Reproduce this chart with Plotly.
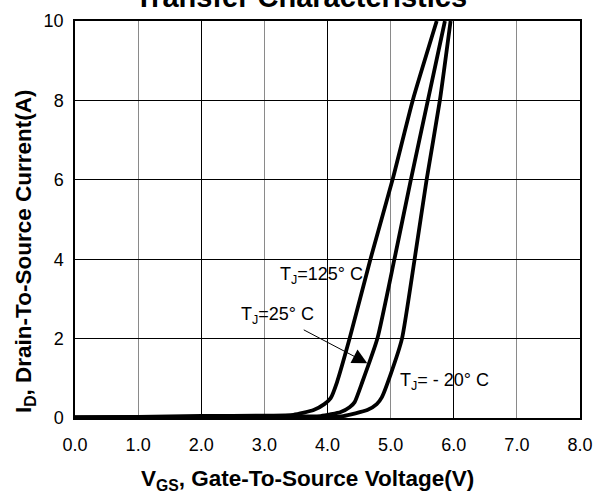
import plotly.graph_objects as go

# Transfer characteristics: V_GS (V) vs I_D (A)
vgs_125 = [0.0, 1.0, 2.0, 3.0, 3.46, 3.78, 3.95, 4.05, 4.15, 4.35, 4.68, 5.03, 5.35, 5.73]
id_125 = [0.02, 0.03, 0.05, 0.06, 0.08, 0.2, 0.35, 0.5, 0.9, 2.0, 4.0, 6.0, 8.0, 10.0]

vgs_25 = [0.0, 1.0, 2.0, 3.0, 3.89, 4.21, 4.35, 4.43, 4.55, 4.79, 5.06, 5.32, 5.59, 5.86]
id_25 = [0.01, 0.02, 0.03, 0.04, 0.05, 0.15, 0.27, 0.4, 0.9, 2.0, 4.0, 6.0, 8.0, 10.0]

vgs_m20 = [0.0, 1.0, 2.0, 3.0, 4.0, 4.25, 4.63, 4.78, 4.86, 5.0, 5.18, 5.38, 5.57, 5.78, 5.95]
id_m20 = [0.01, 0.01, 0.02, 0.02, 0.03, 0.05, 0.2, 0.35, 0.52, 1.1, 2.0, 4.0, 6.0, 8.0, 10.0]

x_ticks = [0, 1, 2, 3, 4, 5, 6, 7, 8]
x_tick_labels = ["0.0", "1.0", "2.0", "3.0", "4.0", "5.0", "6.0", "7.0", "8.0"]
y_ticks = [0, 2, 4, 6, 8, 10]

FONT = "Arial, Liberation Sans, sans-serif"

fig = go.Figure()
for xs, ys, name in [(vgs_125, id_125, "125"), (vgs_25, id_25, "25"), (vgs_m20, id_m20, "-20")]:
    fig.add_trace(go.Scatter(x=xs, y=ys, mode="lines", name=name,
                             line=dict(color="black", width=3.8, shape="spline", smoothing=0.5),
                             showlegend=False, hoverinfo="skip"))

# invisible trace on the overlaying axis so its grid is drawn
fig.add_trace(go.Scatter(x=[0, 8], y=[0, 0], xaxis="x2", mode="lines",
                         line=dict(width=0), showlegend=False, hoverinfo="skip"))

fig.update_layout(
    width=605, height=495,
    margin=dict(l=75, r=25, t=11, b=77),
    paper_bgcolor="white", plot_bgcolor="white",
    font=dict(family=FONT, color="black", size=18),
    xaxis=dict(range=[0, 8], tickvals=x_ticks, ticktext=x_tick_labels,
               showgrid=True, gridcolor="#8a8a8a", gridwidth=1,
               showline=True, linecolor="black", linewidth=1.5, mirror=True,
               zeroline=False, ticks="", ticklabelstandoff=10,
               tickfont=dict(size=18, family=FONT)),
    xaxis2=dict(range=[0, 8], overlaying="x", matches="x", dtick=2, tick0=0,
                showgrid=True, gridcolor="black", gridwidth=1,
                showticklabels=False, ticks="", zeroline=False, side="bottom"),
    yaxis=dict(range=[0, 10], tickvals=y_ticks,
               showgrid=True, gridcolor="black", gridwidth=1,
               showline=True, linecolor="black", linewidth=1.5, mirror=True,
               zeroline=False, ticks="", ticklabelstandoff=6,
               tickfont=dict(size=18, family=FONT)),
)

# chart title (cut off at the top, as in the reference)
fig.add_annotation(text="<b>Transfer Characteristics</b>", xref="paper", yref="paper",
                   x=0.448, y=1.0, xanchor="center", yanchor="bottom", showarrow=False,
                   font=dict(size=29, family=FONT), yshift=6)

# axis titles
fig.add_annotation(text="<b>V<sub>GS</sub>, Gate-To-Source Voltage(V)</b>", xref="paper", yref="paper",
                   x=0.461, y=-0.157, xanchor="center", yanchor="middle", showarrow=False,
                   font=dict(size=22.5, family=FONT))
fig.add_annotation(text="<b>I<sub>D</sub>, Drain-To-Source Current(A)</b>", xref="paper", yref="paper",
                   x=-0.099, y=0.418, xanchor="center", yanchor="middle", showarrow=False,
                   textangle=-90, font=dict(size=22.5, family=FONT))

fig.add_annotation(text="T<sub>J</sub>=125° C", x=3.9, y=3.6, showarrow=False,
                   font=dict(size=18, family=FONT))
fig.add_annotation(text="T<sub>J</sub>=25° C", x=3.2, y=2.57, showarrow=False,
                   font=dict(size=18, family=FONT))
fig.add_annotation(text="T<sub>J</sub>= - 20° C", x=5.11, y=0.93, xanchor="left",
                   showarrow=False, font=dict(size=18, family=FONT))
fig.add_annotation(text="", x=4.63, y=1.38, ax=3.6, ay=2.24, axref="x", ayref="y",
                   showarrow=True, arrowhead=2, arrowsize=3, arrowwidth=1,
                   arrowcolor="black")

fig.write_html("out.html")
